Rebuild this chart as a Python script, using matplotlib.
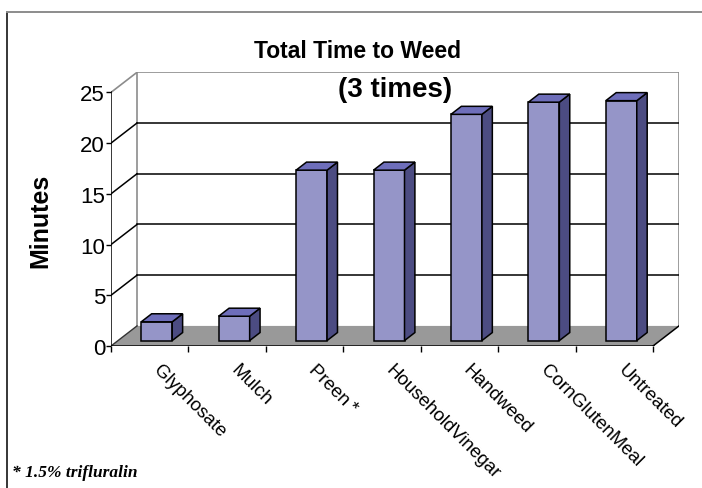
import matplotlib
matplotlib.use('Agg')
import matplotlib.pyplot as plt
from matplotlib.patches import Polygon
from matplotlib.transforms import offset_copy

plt.rcParams['font.family'] = ['Liberation Sans', 'DejaVu Sans']

# data
categories = ['Glyphosate', 'Mulch', 'Preen\u2009*', 'HouseholdVinegar', 'Handweed',
              'CornGlutenMeal', 'Untreated']
minutes = [1.85, 2.4, 16.8, 16.8, 22.3, 23.5, 23.65]
yticks = [0, 5, 10, 15, 20, 25]

W, H = 702, 489
fig = plt.figure(figsize=(W / 100, H / 100), dpi=100)


def fx(x):
    return x / W


def fy(y):
    return 1 - y / H


# 3d look: depth offset of the back wall, in data units
n = len(categories)
ymax = 25
DX = 0.336
DY = 1.98
d0, dd = 0.27, 0.40     # bar front depth, bar thickness (fraction of full depth)
bw = 0.4

ax = fig.add_axes([fx(111), fy(347), fx(679) - fx(111), fy(73.3) - fy(347)])
ax.set_xlim(0, n + DX)
ax.set_ylim(0, ymax + DY)
for s in ax.spines.values():
    s.set_visible(False)
ax.patch.set_alpha(0)

# floor
ax.add_patch(Polygon([(0, 0), (n, 0), (n + DX, DY), (DX, DY)], closed=True,
                     facecolor='#999999', edgecolor='none', zorder=1))
ax.plot([n, n + DX], [0, DY], color='black', lw=1.1, zorder=2)
ax.plot([0, DX], [0, DY], color='#333333', lw=1.0, zorder=2)

# back wall frame + gridlines
wall = '#8c8c8c'
ax.plot([DX, DX, n + DX, n + DX], [DY, ymax + DY, ymax + DY, DY], color=wall, lw=1.2, zorder=1)
ax.plot([0, DX], [ymax, ymax + DY], color=wall, lw=1.2, zorder=1)
for v in yticks[1:-1]:
    ax.plot([DX, n + DX], [v + DY, v + DY], color='black', lw=1.1, zorder=1)
    ax.plot([0, DX], [v, v + DY], color='black', lw=1.1, zorder=1)

# axes lines
ax.plot([0, 0], [0, ymax], color='black', lw=1.1, zorder=5)
ax.plot([0, n], [0, 0], color='black', lw=1.8, zorder=5)
ax.set_yticks(yticks)
ax.set_yticklabels([str(v) for v in yticks], fontsize=16)
ax.tick_params(axis='y', length=3.3, width=1.0, pad=1, color='black')
ax.set_xticks(range(n + 1))
ax.set_xticklabels([])
ax.tick_params(axis='x', length=4, width=1.0, direction='out')

# bars
front = '#9595c8'
side = '#4c4c82'
top = '#6e6eba'
xs = [i + 0.5 + d0 * DX for i in range(n)]
base = d0 * DY
ax.bar(xs, minutes, width=bw, bottom=base, color=front, edgecolor='black',
       linewidth=1.1, zorder=3)
for x, v in zip(xs, minutes):
    xl, xr = x - bw / 2, x + bw / 2
    ox, oy = dd * DX, dd * DY
    ax.add_patch(Polygon([(xr, base), (xr + ox, base + oy), (xr + ox, base + v + oy), (xr, base + v)],
                         closed=True, facecolor=side, edgecolor='black', lw=1.1, zorder=3))
    ax.add_patch(Polygon([(xl, base + v), (xr, base + v), (xr + ox, base + v + oy), (xl + ox, base + v + oy)],
                         closed=True, facecolor=top, edgecolor='black', lw=1.1, zorder=3))

# category labels
lab_tr = offset_copy(ax.transData, fig=fig, x=9.0, y=-11.0, units='points')
for i, c in enumerate(categories):
    ax.text(i + 0.5, 0, c, transform=lab_tr, rotation=-45, rotation_mode='anchor',
            ha='left', va='top', fontsize=13.5)

# titles
fig.text(fx(357), fy(52), 'Total Time to Weed', ha='center', va='center',
         fontsize=16.5, fontweight='bold')
fig.text(fx(395), fy(90), '(3 times)', ha='center', va='center',
         fontsize=20, fontweight='bold')
fig.text(fx(40), fy(221), 'Minutes', rotation=90, ha='center', va='center',
         fontsize=18, fontweight='bold')
fig.text(fx(12), fy(476.7), '* 1.5% trifluralin', ha='left', va='baseline',
         fontsize=12.5, fontweight='bold', style='italic', family='Liberation Serif')

# frame
fig.add_artist(plt.Line2D([fx(7), fx(7)], [fy(13), 0], color='black', lw=1.1))
fig.add_artist(plt.Line2D([fx(7), 1], [fy(13), fy(13)], color='#8c8c8c', lw=1.4))

fig.savefig('out.png', dpi=100)
